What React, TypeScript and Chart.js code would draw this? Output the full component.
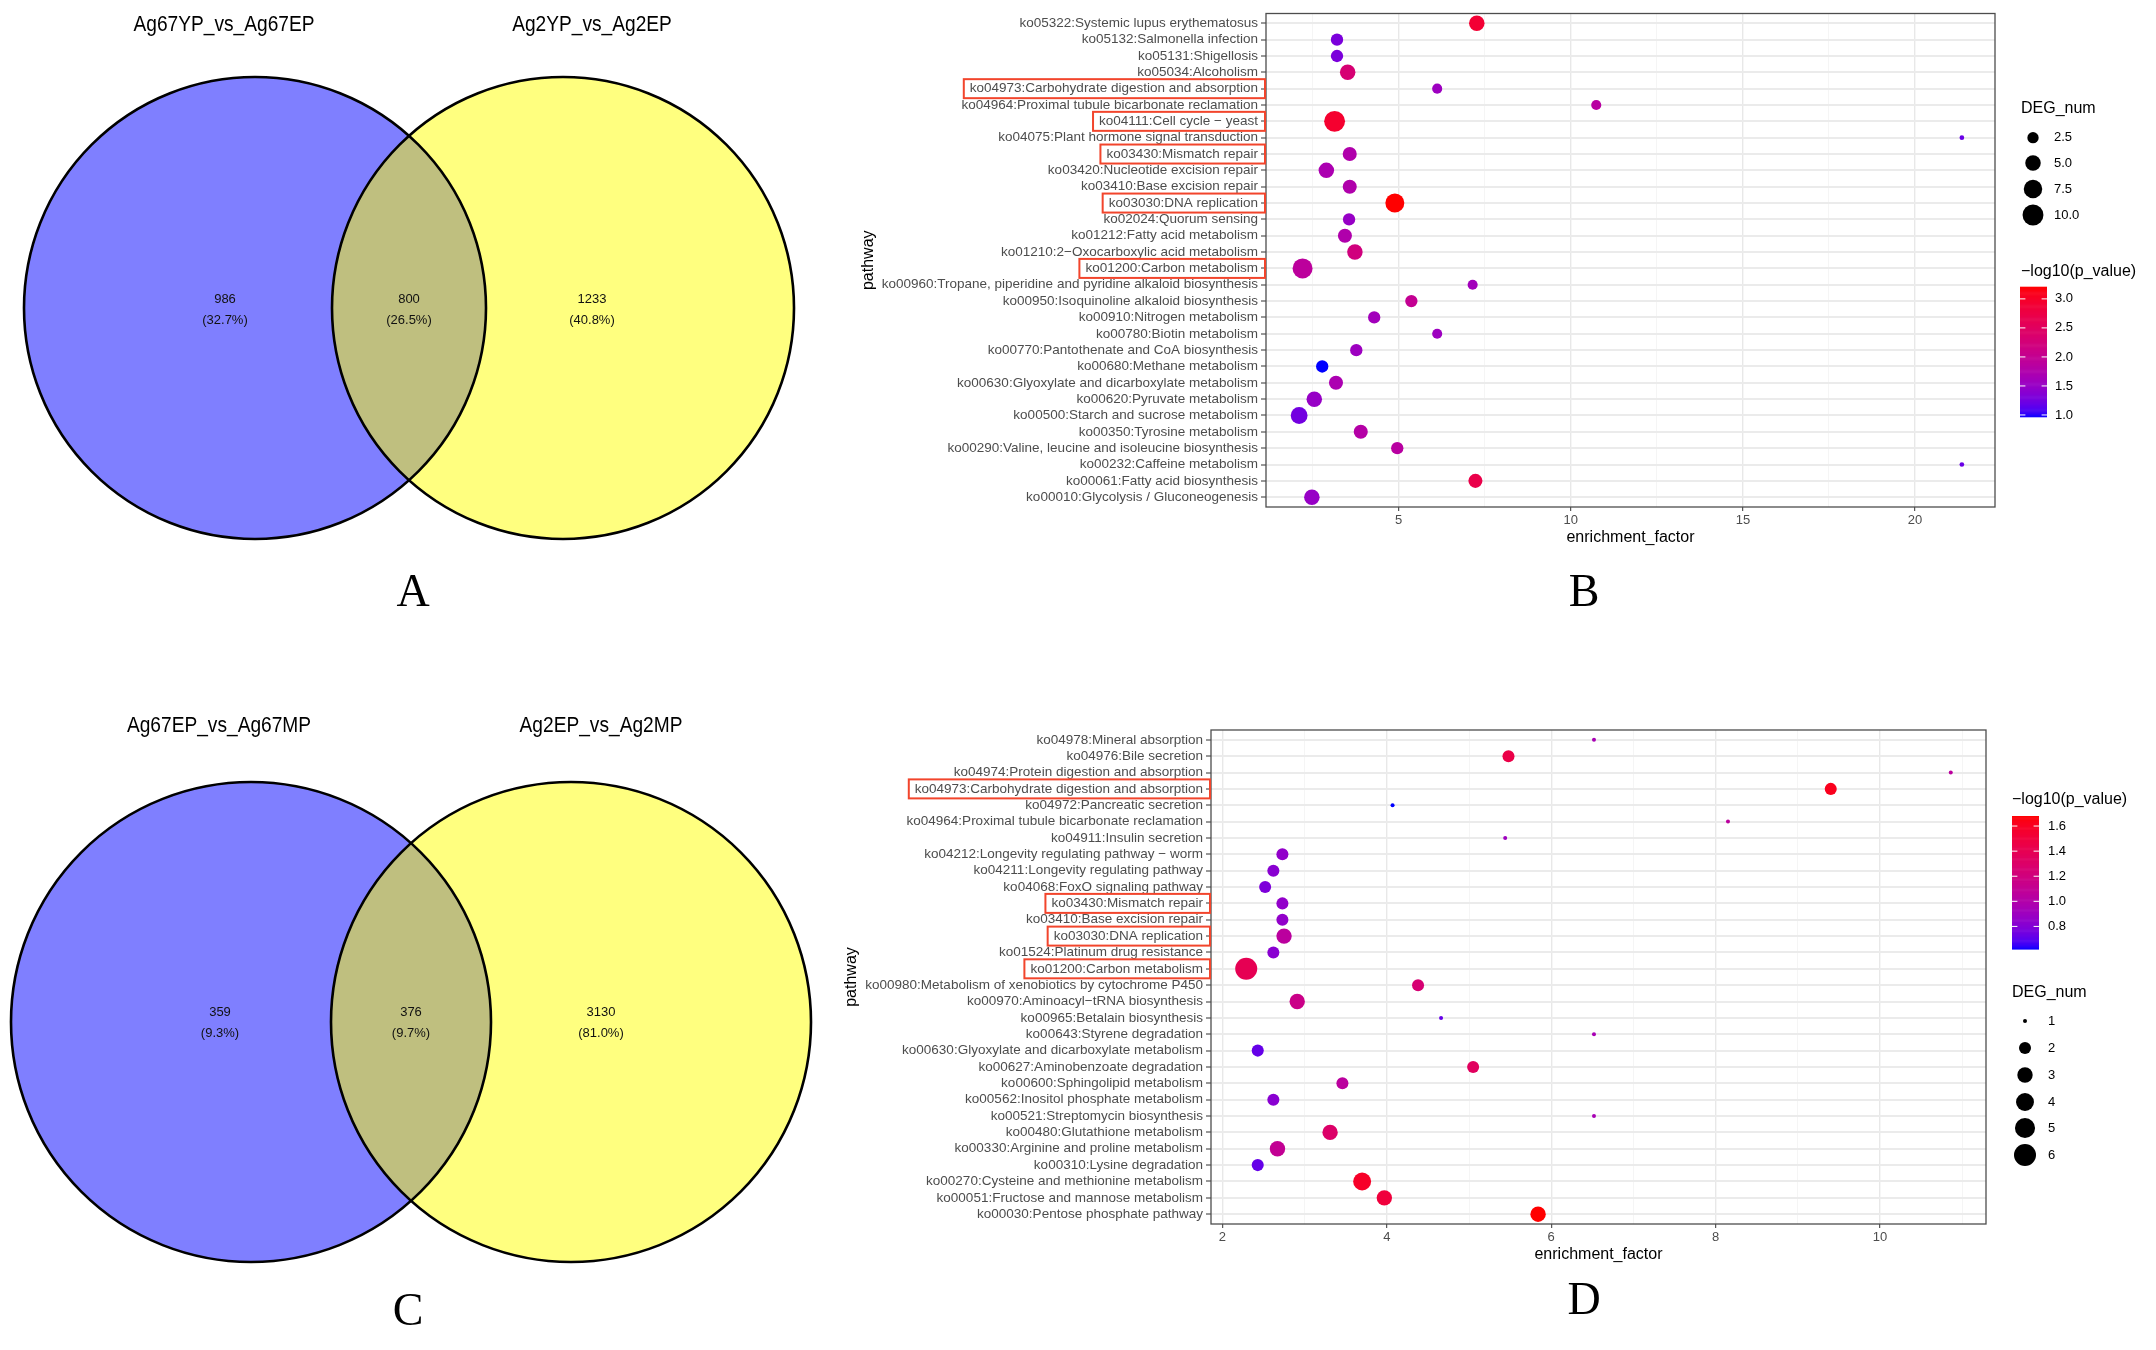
import React, { useEffect, useRef } from 'react';
import { Chart, registerables } from 'chart.js';
Chart.register(...registerables);
Chart.defaults.font.family = '"Liberation Sans", Arial, sans-serif';

// ---------------- DATA ----------------
const vennASets = ['Ag67YP_vs_Ag67EP', 'Ag2YP_vs_Ag2EP'];
const vennACounts = [986, 800, 1233]; // left only, both, right only
const vennCSets = ['Ag67EP_vs_Ag67MP', 'Ag2EP_vs_Ag2MP'];
const vennCCounts = [359, 376, 3130];

const bPathways = [
  'ko05322:Systemic lupus erythematosus',
  'ko05132:Salmonella infection',
  'ko05131:Shigellosis',
  'ko05034:Alcoholism',
  'ko04973:Carbohydrate digestion and absorption',
  'ko04964:Proximal tubule bicarbonate reclamation',
  'ko04111:Cell cycle \u2212 yeast',
  'ko04075:Plant hormone signal transduction',
  'ko03430:Mismatch repair',
  'ko03420:Nucleotide excision repair',
  'ko03410:Base excision repair',
  'ko03030:DNA replication',
  'ko02024:Quorum sensing',
  'ko01212:Fatty acid metabolism',
  'ko01210:2\u2212Oxocarboxylic acid metabolism',
  'ko01200:Carbon metabolism',
  'ko00960:Tropane, piperidine and pyridine alkaloid biosynthesis',
  'ko00950:Isoquinoline alkaloid biosynthesis',
  'ko00910:Nitrogen metabolism',
  'ko00780:Biotin metabolism',
  'ko00770:Pantothenate and CoA biosynthesis',
  'ko00680:Methane metabolism',
  'ko00630:Glyoxylate and dicarboxylate metabolism',
  'ko00620:Pyruvate metabolism',
  'ko00500:Starch and sucrose metabolism',
  'ko00350:Tyrosine metabolism',
  'ko00290:Valine, leucine and isoleucine biosynthesis',
  'ko00232:Caffeine metabolism',
  'ko00061:Fatty acid biosynthesis',
  'ko00010:Glycolysis / Gluconeogenesis',
];
const bEnrichment = [7.27, 3.21, 3.21, 3.52, 6.12, 10.74, 3.14, 21.36, 3.58, 2.90, 3.58, 4.89, 3.56, 3.44, 3.73, 2.21, 7.15, 5.37, 4.29, 6.12, 3.77, 2.78, 3.18, 2.55, 2.11, 3.90, 4.96, 21.36, 7.23, 2.48];
const bDegNum = [5, 3, 3, 5, 2, 2, 10, 1, 4, 5, 4, 8, 3, 4, 5, 9, 2, 3, 3, 2, 3, 3, 4, 5, 6, 4, 3, 1, 4, 5];
const bLogP = [2.9, 1.3, 1.3, 2.3, 1.55, 1.85, 2.95, 1.2, 1.75, 1.7, 1.75, 3.21, 1.5, 1.75, 2.2, 1.9, 1.6, 2.0, 1.6, 1.55, 1.55, 0.97, 1.7, 1.5, 1.25, 1.8, 1.85, 1.2, 2.7, 1.5];
const bHighlight = [
  'ko04973:Carbohydrate digestion and absorption',
  'ko04111:Cell cycle \u2212 yeast',
  'ko03430:Mismatch repair',
  'ko03030:DNA replication',
  'ko01200:Carbon metabolism',
];
const bXMajor = [5, 10, 15, 20];
const bXMinor = [2.5, 7.5, 12.5, 17.5];
const bSizeBreaks = [2.5, 5, 7.5, 10];
const bColorBreaks = [1.0, 1.5, 2.0, 2.5, 3.0];

const dPathways = [
  'ko04978:Mineral absorption',
  'ko04976:Bile secretion',
  'ko04974:Protein digestion and absorption',
  'ko04973:Carbohydrate digestion and absorption',
  'ko04972:Pancreatic secretion',
  'ko04964:Proximal tubule bicarbonate reclamation',
  'ko04911:Insulin secretion',
  'ko04212:Longevity regulating pathway \u2212 worm',
  'ko04211:Longevity regulating pathway',
  'ko04068:FoxO signaling pathway',
  'ko03430:Mismatch repair',
  'ko03410:Base excision repair',
  'ko03030:DNA replication',
  'ko01524:Platinum drug resistance',
  'ko01200:Carbon metabolism',
  'ko00980:Metabolism of xenobiotics by cytochrome P450',
  'ko00970:Aminoacyl\u2212tRNA biosynthesis',
  'ko00965:Betalain biosynthesis',
  'ko00643:Styrene degradation',
  'ko00630:Glyoxylate and dicarboxylate metabolism',
  'ko00627:Aminobenzoate degradation',
  'ko00600:Sphingolipid metabolism',
  'ko00562:Inositol phosphate metabolism',
  'ko00521:Streptomycin biosynthesis',
  'ko00480:Glutathione metabolism',
  'ko00330:Arginine and proline metabolism',
  'ko00310:Lysine degradation',
  'ko00270:Cysteine and methionine metabolism',
  'ko00051:Fructose and mannose metabolism',
  'ko00030:Pentose phosphate pathway',
];
const dEnrichment = [6.52, 5.48, 10.86, 9.40, 4.07, 8.15, 5.44, 2.73, 2.62, 2.52, 2.73, 2.73, 2.75, 2.62, 2.29, 4.38, 2.91, 4.66, 6.52, 2.43, 5.05, 3.46, 2.62, 6.52, 3.31, 2.67, 2.43, 3.70, 3.97, 5.84];
const dDegNum = [1, 2, 1, 2, 1, 1, 1, 2, 2, 2, 2, 2, 3, 2, 6, 2, 3, 1, 1, 2, 2, 2, 2, 1, 3, 3, 2, 4, 3, 3];
const dLogP = [0.95, 1.45, 1.05, 1.62, 0.62, 1.05, 0.9, 0.85, 0.82, 0.78, 0.85, 0.85, 1.05, 0.82, 1.4, 1.25, 1.15, 0.72, 0.95, 0.72, 1.35, 1.05, 0.82, 0.95, 1.3, 1.1, 0.72, 1.58, 1.5, 1.68];
const dHighlight = [
  'ko04973:Carbohydrate digestion and absorption',
  'ko03430:Mismatch repair',
  'ko03030:DNA replication',
  'ko01200:Carbon metabolism',
];
const dXMajor = [2, 4, 6, 8, 10];
const dXMinor = [3, 5, 7, 9, 11];
const dSizeBreaks = [1, 2, 3, 4, 5, 6];
const dColorBreaks = [0.8, 1.0, 1.2, 1.4, 1.6];

// ---------------- COLOUR (Lab gradient blue -> red, like ggplot) ----------------
function toLin(c: number) { c /= 255; return c <= 0.04045 ? c / 12.92 : Math.pow((c + 0.055) / 1.055, 2.4); }
function fromLin(c: number) { const v = c <= 0.0031308 ? 12.92 * c : 1.055 * Math.pow(c, 1 / 2.4) - 0.055; return Math.round(Math.max(0, Math.min(1, v)) * 255); }
function rgbToLab(rgb: number[]) {
  const R = toLin(rgb[0]), G = toLin(rgb[1]), B = toLin(rgb[2]);
  const X = (0.4124564 * R + 0.3575761 * G + 0.1804375 * B) / 0.95047;
  const Y = 0.2126729 * R + 0.7151522 * G + 0.072175 * B;
  const Z = (0.0193339 * R + 0.119192 * G + 0.9503041 * B) / 1.08883;
  const f = (t: number) => (t > 0.008856 ? Math.cbrt(t) : 7.787 * t + 16 / 116);
  const fx = f(X), fy = f(Y), fz = f(Z);
  return [116 * fy - 16, 500 * (fx - fy), 200 * (fy - fz)];
}
function labToRgb(lab: number[]) {
  const fy = (lab[0] + 16) / 116, fx = fy + lab[1] / 500, fz = fy - lab[2] / 200;
  const inv = (t: number) => (t * t * t > 0.008856 ? t * t * t : (t - 16 / 116) / 7.787);
  const X = inv(fx) * 0.95047, Y = inv(fy), Z = inv(fz) * 1.08883;
  const R = 3.2404542 * X - 1.5371385 * Y - 0.4985314 * Z;
  const G = -0.969266 * X + 1.8760108 * Y + 0.041556 * Z;
  const B = 0.0556434 * X - 0.2040259 * Y + 1.0572252 * Z;
  return [fromLin(R), fromLin(G), fromLin(B)];
}
const LAB_LOW = rgbToLab([0, 0, 255]);
const LAB_HIGH = rgbToLab([255, 0, 0]);
function gradColor(v: number, lo: number, hi: number) {
  const t = Math.max(0, Math.min(1, (v - lo) / (hi - lo)));
  const lab = LAB_LOW.map((a, i) => a + (LAB_HIGH[i] - a) * t);
  const c = labToRgb(lab);
  return `rgb(${c[0]},${c[1]},${c[2]})`;
}

const FONT = '"Liberation Sans", Arial, sans-serif';
const TICK_FONT = 13.5;

// ---------------- BUBBLE PANEL ----------------
type PanelSpec = {
  pathways: string[]; enrich: number[]; deg: number[]; logp: number[]; highlight: string[];
  xMajor: number[]; xMinor: number[]; sizeBreaks: number[]; colorBreaks: number[];
  sizeFn: (v: number) => number; // diameter
  area: { left: number; right: number; top: number; bottom: number };
  canvasW: number; canvasH: number;
  letter: string; letterPos: [number, number];
  yTitleX: number;
  legend: any;
  sizeLabel: (v: number) => string;
};

function bubbleConfig(p: PanelSpec): any {
  const n = p.pathways.length;
  const emin = Math.min(...p.enrich), emax = Math.max(...p.enrich);
  const er = emax - emin;
  const lo = Math.min(...p.logp), hi = Math.max(...p.logp);
  const allX = [...p.xMajor, ...p.xMinor].sort((a, b) => a - b).filter(v => v > emin - 0.05 * er && v < emax + 0.05 * er);
  const xAxisH = 40;
  const plugin = {
    id: 'decor' + p.letter,
    afterDatasetsDraw(chart: any) {
      const { ctx, chartArea: ca } = chart;
      ctx.save();
      ctx.strokeStyle = '#4d4d4d';
      ctx.lineWidth = 1.3;
      ctx.strokeRect(ca.left, ca.top, ca.right - ca.left, ca.bottom - ca.top);
      ctx.restore();
    },
    afterDraw(chart: any) {
      const { ctx, chartArea: ca, scales } = chart;
      const y = scales.y;
      ctx.save();
      // axis titles
      ctx.fillStyle = '#000';
      ctx.font = `16px ${FONT}`;
      ctx.textAlign = 'center';
      ctx.textBaseline = 'middle';
      ctx.fillText('enrichment_factor', (ca.left + ca.right) / 2, ca.bottom + 31);
      ctx.save();
      ctx.translate(p.yTitleX, (ca.top + ca.bottom) / 2);
      ctx.rotate(-Math.PI / 2);
      ctx.fillText('pathway', 0, 0);
      ctx.restore();
      // highlight boxes
      ctx.font = `${TICK_FONT}px ${FONT}`;
      ctx.strokeStyle = '#f2452c';
      ctx.lineWidth = 2;
      p.highlight.forEach((h) => {
        const i = p.pathways.indexOf(h);
        if (i < 0) return;
        const yy = y.getPixelForValue(i);
        const w = ctx.measureText(h).width;
        const right = ca.left - 1;
        const left = ca.left - 8 - w - 6;
        ctx.strokeRect(left, yy - 9.5, right - left, 19);
      });
      // panel letter
      ctx.fillStyle = '#000';
      ctx.font = `46px "Liberation Serif", "Times New Roman", serif`;
      ctx.textAlign = 'center';
      ctx.textBaseline = 'middle';
      ctx.fillText(p.letter, p.letterPos[0], p.letterPos[1]);
      // legends
      const L = p.legend;
      // size legend
      ctx.fillStyle = '#000';
      ctx.font = `16px ${FONT}`;
      ctx.textAlign = 'left';
      ctx.fillText('DEG_num', L.sizeTitle[0], L.sizeTitle[1]);
      p.sizeBreaks.forEach((v, k) => {
        const cy = L.sizeY[k];
        ctx.beginPath();
        ctx.arc(L.sizeCx, cy, p.sizeFn(v) / 2, 0, Math.PI * 2);
        ctx.fillStyle = '#000';
        ctx.fill();
        ctx.font = `13px ${FONT}`;
        ctx.fillText(p.sizeLabel(v), L.labelX, cy);
      });
      // colour bar
      ctx.font = `16px ${FONT}`;
      ctx.fillText('\u2212log10(p_value)', L.colTitle[0], L.colTitle[1]);
      const bx = L.bar[0], bt = L.bar[1], bw = L.bar[2], bh = L.bar[3];
      const steps = 120;
      for (let s = 0; s < steps; s++) {
        const v = hi - (hi - lo) * (s + 0.5) / steps;
        ctx.fillStyle = gradColor(v, lo, hi);
        ctx.fillRect(bx, bt + (bh * s) / steps, bw, bh / steps + 0.6);
      }
      ctx.strokeStyle = '#fff';
      ctx.lineWidth = 1;
      ctx.font = `13px ${FONT}`;
      p.colorBreaks.forEach((v) => {
        const yy = bt + ((hi - v) / (hi - lo)) * bh;
        ctx.beginPath();
        ctx.moveTo(bx, yy); ctx.lineTo(bx + bw * 0.2, yy);
        ctx.moveTo(bx + bw * 0.8, yy); ctx.lineTo(bx + bw, yy);
        ctx.stroke();
        ctx.fillStyle = '#000';
        ctx.fillText(v.toFixed(1), L.colLabelX, yy);
      });
      ctx.restore();
    },
  };
  return {
    type: 'bubble',
    data: {
      datasets: [{
        data: p.pathways.map((_, i) => ({ x: p.enrich[i], y: i, r: p.sizeFn(p.deg[i]) / 2 })),
        backgroundColor: p.pathways.map((_, i) => gradColor(p.logp[i], lo, hi)),
        borderWidth: 0,
        hoverBorderWidth: 0,
      }],
    },
    options: {
      animation: false,
      responsive: false,
      devicePixelRatio: 1,
      events: [],
      layout: {
        autoPadding: false,
        padding: { left: 0, top: p.area.top, right: p.canvasW - p.area.right, bottom: p.canvasH - p.area.bottom - xAxisH },
      },
      plugins: { legend: { display: false }, tooltip: { enabled: false } },
      scales: {
        x: {
          type: 'linear',
          min: emin - 0.05 * er,
          max: emax + 0.05 * er,
          afterBuildTicks: (s: any) => { s.ticks = allX.map(v => ({ value: v })); },
          afterFit: (s: any) => { s.height = xAxisH; },
          ticks: {
            autoSkip: false, maxRotation: 0, color: '#4d4d4d', font: { size: 13 }, padding: 2,
            callback: (v: number) => (p.xMajor.includes(v) ? String(v) : ''),
          },
          grid: {
            color: (c: any) => (c.tick && p.xMajor.includes(c.tick.value) ? '#e8e8e8' : '#f3f3f3'),
            lineWidth: (c: any) => (c.tick && p.xMajor.includes(c.tick.value) ? 1.4 : 0.8),
            tickLength: 4,
            tickColor: (c: any) => (c.tick && p.xMajor.includes(c.tick.value) ? '#333' : 'rgba(0,0,0,0)'),
            tickWidth: 1,
          },
          border: { display: false },
        },
        y: {
          type: 'linear',
          min: -0.6,
          max: n - 1 + 0.6,
          reverse: true,
          afterBuildTicks: (s: any) => { s.ticks = p.pathways.map((_, i) => ({ value: i })); },
          afterFit: (s: any) => { s.width = p.area.left; },
          ticks: {
            autoSkip: false, color: '#4d4d4d', font: { size: TICK_FONT }, padding: 3,
            callback: (v: number) => p.pathways[v],
          },
          grid: { color: '#ebebeb', lineWidth: 2, tickLength: 5, tickColor: '#333', tickWidth: 1 },
          border: { display: false },
        },
      },
    },
    plugins: [plugin],
  };
}

// ---------------- VENN PANEL ----------------
function vennConfig(sets: string[], counts: number[], geo: any, W: number, H: number, letter: string): any {
  const total = counts.reduce((a, b) => a + b, 0);
  const circles = [{ x: geo.cx[0], y: geo.cy, r: geo.r }, { x: geo.cx[1], y: geo.cy, r: geo.r }];
  const plugin = {
    id: 'venn' + letter,
    afterDraw(chart: any) {
      const { ctx, scales } = chart;
      const X = (v: number) => scales.x.getPixelForValue(v);
      const Y = (v: number) => scales.y.getPixelForValue(v);
      ctx.save();
      ctx.fillStyle = '#000';
      ctx.textAlign = 'center';
      ctx.textBaseline = 'middle';
      ctx.font = `22px ${FONT}`;
      sets.forEach((s, i) => {
        ctx.save();
        ctx.translate(X(geo.titleX[i]), Y(geo.titleY));
        ctx.scale(0.87, 1);
        ctx.fillText(s, 0, 0);
        ctx.restore();
      });
      ctx.font = `13px ${FONT}`;
      ctx.fillStyle = '#111';
      counts.forEach((c, i) => {
        ctx.fillText(String(c), X(geo.labelX[i]), Y(geo.labelY));
        ctx.fillText(`(${((c / total) * 100).toFixed(1)}%)`, X(geo.labelX[i]), Y(geo.labelY + 21));
      });
      ctx.fillStyle = '#000';
      ctx.font = `46px "Liberation Serif", "Times New Roman", serif`;
      ctx.fillText(letter, X(geo.letter[0]), Y(geo.letter[1]));
      ctx.restore();
    },
  };
  return {
    type: 'bubble',
    data: {
      datasets: [
        { data: circles, backgroundColor: 'rgba(0,0,0,0)', borderColor: '#000', borderWidth: 2.6, order: 0 },
        { data: circles, backgroundColor: ['rgba(0,0,255,0.5)', 'rgba(255,255,0,0.5)'], borderWidth: 0, order: 1 },
      ],
    },
    options: {
      animation: false,
      responsive: false,
      devicePixelRatio: 1,
      events: [],
      layout: { padding: 0, autoPadding: false },
      plugins: { legend: { display: false }, tooltip: { enabled: false } },
      scales: {
        x: { type: 'linear', display: false, min: 0, max: W },
        y: { type: 'linear', display: false, min: 0, max: H, reverse: true },
      },
    },
    plugins: [plugin],
  };
}

export default function App() {
  const aRef = useRef<HTMLCanvasElement>(null);
  const bRef = useRef<HTMLCanvasElement>(null);
  const cRef = useRef<HTMLCanvasElement>(null);
  const dRef = useRef<HTMLCanvasElement>(null);

  useEffect(() => {
    const charts: Chart[] = [];
    const aGeo = { cx: [255, 563], cy: 308, r: 231, titleX: [224, 592], titleY: 25, labelX: [225, 409, 592], labelY: 299, letter: [413, 594] };
    const cGeo = { cx: [251, 571], cy: 342, r: 240, titleX: [219, 601], titleY: 46, labelX: [220, 411, 601], labelY: 332, letter: [408, 633] };
    charts.push(new Chart(aRef.current!, vennConfig(vennASets, vennACounts, aGeo, 830, 640, 'A')));
    charts.push(new Chart(cRef.current!, vennConfig(vennCSets, vennCCounts, cGeo, 830, 670, 'C')));

    const bSpec: PanelSpec = {
      pathways: bPathways, enrich: bEnrichment, deg: bDegNum, logp: bLogP, highlight: bHighlight,
      xMajor: bXMajor, xMinor: bXMinor, sizeBreaks: bSizeBreaks, colorBreaks: bColorBreaks,
      sizeFn: (v) => 4.7 + 5.4 * Math.sqrt(Math.max(0, v - 1)),
      area: { left: 436, right: 1165, top: 13.5, bottom: 507 },
      canvasW: 1326, canvasH: 640,
      letter: 'B', letterPos: [754, 594],
      yTitleX: 39,
      legend: {
        sizeTitle: [1191, 109], sizeCx: 1203, sizeY: [137.7, 163, 189, 215], labelX: 1224,
        colTitle: [1191, 272], bar: [1190, 286.7, 27, 130], colLabelX: 1225,
      },
      sizeLabel: (v) => v.toFixed(1),
    };
    const dSpec: PanelSpec = {
      pathways: dPathways, enrich: dEnrichment, deg: dDegNum, logp: dLogP, highlight: dHighlight,
      xMajor: dXMajor, xMinor: dXMinor, sizeBreaks: dSizeBreaks, colorBreaks: dColorBreaks,
      sizeFn: (v) => 4 + 8.05 * Math.sqrt(Math.max(0, v - 1)),
      area: { left: 381, right: 1156, top: 50, bottom: 544 },
      canvasW: 1326, canvasH: 670,
      letter: 'D', letterPos: [754, 622],
      yTitleX: 22,
      legend: {
        sizeTitle: [1182, 313], sizeCx: 1195, sizeY: [341, 368, 395, 422, 448, 475], labelX: 1218,
        colTitle: [1182, 120], bar: [1182, 136, 27, 133], colLabelX: 1218,
      },
      sizeLabel: (v) => String(v),
    };
    charts.push(new Chart(bRef.current!, bubbleConfig(bSpec)));
    charts.push(new Chart(dRef.current!, bubbleConfig(dSpec)));
    return () => charts.forEach((c) => c.destroy());
  }, []);

  const abs = (l: number, t: number, w: number, h: number): React.CSSProperties => ({ position: 'absolute', left: l, top: t, width: w, height: h });
  return (
    <div style={{ position: 'absolute', left: 0, top: 0, width: 2156, height: 1350, background: '#fff', overflow: 'hidden' }}>
      <canvas ref={aRef} width={830} height={640} style={abs(0, 0, 830, 640)} />
      <canvas ref={cRef} width={830} height={670} style={abs(0, 680, 830, 670)} />
      <canvas ref={bRef} width={1326} height={640} style={abs(830, 0, 1326, 640)} />
      <canvas ref={dRef} width={1326} height={670} style={abs(830, 680, 1326, 670)} />
    </div>
  );
}
